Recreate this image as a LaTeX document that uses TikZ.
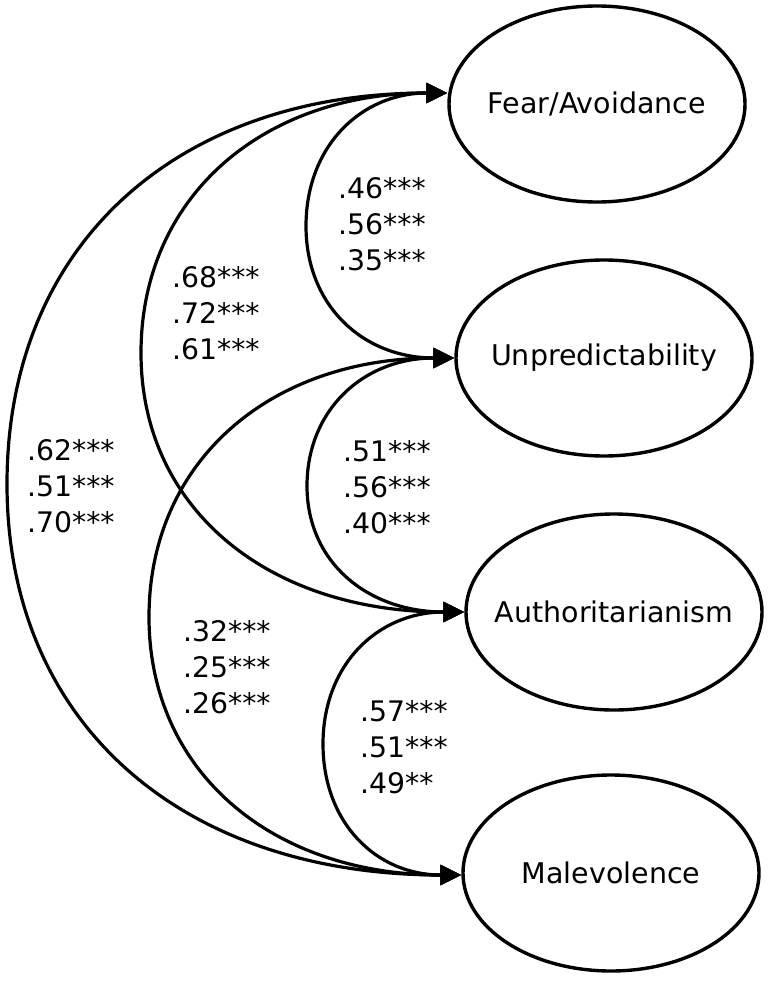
\documentclass[tikz,border=0pt]{standalone}
\usepackage{fontspec}
\setmainfont{DejaVu Sans}
\usetikzlibrary{arrows.meta,shapes.geometric,calc}
\begin{document}
\begin{tikzpicture}[x=1pt,y=-1pt,
  latent/.style={ellipse,draw,line width=3.4pt,minimum width=296pt,minimum height=196pt,inner sep=0pt},
  lbl/.style={font=\fontsize{28.5}{34}\selectfont},
  cov/.style={line width=3.2pt,{Triangle[length=21pt,width=20pt]}-{Triangle[length=21pt,width=20pt]}},
  est/.style={anchor=west,align=left,inner sep=0pt,font=\fontsize{28.3}{36}\selectfont}]
\useasboundingbox (0,0) rectangle (768,982);
\node[latent,label={[lbl]center:Fear/Avoidance}] (F) at (597,104) {};
\node[latent,label={[lbl]center:Unpredictability}] (U) at (604,358) {};
\node[latent,label={[lbl]center:Authoritarianism}] (A) at (614,612) {};
\node[latent,label={[lbl]center:Malevolence}] (M) at (611,873) {};
\coordinate (f) at ($(F.west)+(0,-11)$);
\coordinate (u) at (U.west);
\coordinate (a) at (A.west);
\coordinate (m) at ($(M.west)+(0,2)$);
% F-U
\draw[cov] (f) .. controls +(-86,0) and +(0,-80) .. (306,226) .. controls +(0,80) and +(-91,0) .. (u);
% F-A
\draw[cov] (f) .. controls +(-185,0) and +(0,-156) .. (141,353) .. controls +(0,156) and +(-196,0) .. (a);
% F-M
\draw[cov] (f) .. controls +(-270,0) and +(0,-240) .. (7,484) .. controls +(0,240) and +(-279,0) .. (m);
% U-A
\draw[cov] (u) .. controls +(-91,0) and +(0,-76) .. (307,486) .. controls +(0,76) and +(-97,0) .. (a);
% U-M
\draw[cov] (u) .. controls +(-185,0) and +(0,-155) .. (149,617) .. controls +(0,155) and +(-189,0) .. (m);
% A-M
\draw[cov] (a) .. controls +(-87,0) and +(0,-79) .. (323,744) .. controls +(0,79) and +(-85,0) .. (m);
\node[est] (e1) at (338,224) {.46***\\.56***\\.35***};
\node[est] (e2) at (172,313) {.68***\\.72***\\.61***};
\node[est] (e3) at (27,486) {.62***\\.51***\\.70***};
\node[est] (e4) at (343,487) {.51***\\.56***\\.40***};
\node[est] (e5) at (183,667) {.32***\\.25***\\.26***};
\node[est] (e6) at (360,747) {.57***\\.51***\\.49**};
\end{tikzpicture}
\end{document}
